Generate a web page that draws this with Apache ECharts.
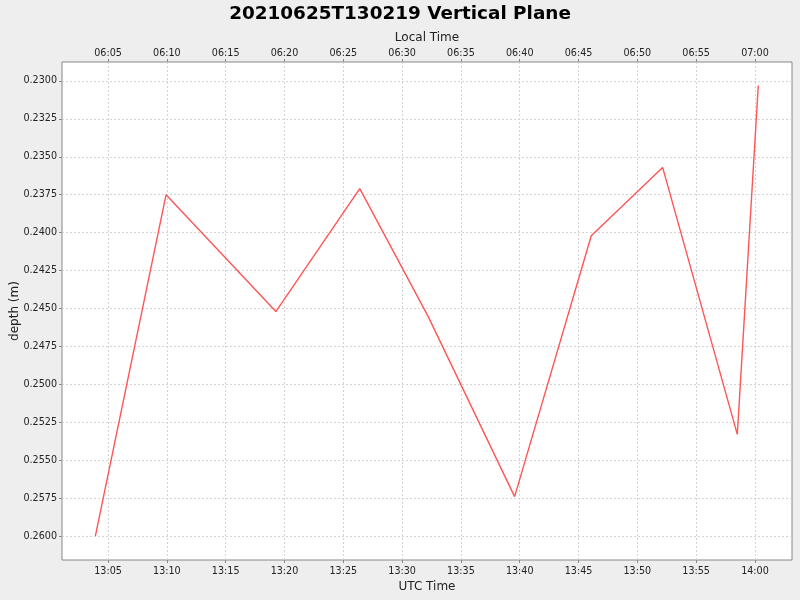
<!DOCTYPE html>
<html>
<head>
<meta charset="utf-8">
<script src="https://cdn.jsdelivr.net/npm/echarts@6/dist/echarts.min.js"></script>
<style>
  html, body { margin: 0; padding: 0; background: #eeeeee; }
  #main { width: 800px; height: 600px; }
</style>
</head>
<body>
<div id="main"></div>
<script type="text/javascript">
    // readings (UTC) and depth values
    var utcTimes = ['13:03:55', '13:09:56', '13:19:16', '13:26:24', '13:32:12',
                    '13:39:34', '13:46:05', '13:52:09', '13:58:30', '14:00:17'];
    var depths = [0.2600, 0.2375, 0.2452, 0.2371, 0.2455,
                  0.2574, 0.2402, 0.2357, 0.2533, 0.2303];

    // axis ticks
    var timeTicks = ['13:05', '13:10', '13:15', '13:20', '13:25', '13:30',
                     '13:35', '13:40', '13:45', '13:50', '13:55', '14:00'];
    var depthTicks = [0.2300, 0.2325, 0.2350, 0.2375, 0.2400, 0.2425, 0.2450,
                      0.2475, 0.2500, 0.2525, 0.2550, 0.2575, 0.2600];
    var day = '2021-06-25';
    var localOffsetHours = -7;

    function ts(hms) {
        if (hms.length == 5) hms = hms + ':00';
        return Date.parse(day + 'T' + hms + 'Z');
    }
    function pad(n) { return (n < 10 ? '0' : '') + n; }
    function hhmm(v, offset) {
        var d = new Date(Math.round(v) + offset * 3600000);
        return pad(d.getUTCHours()) + ':' + pad(d.getUTCMinutes());
    }

    var seriesData = utcTimes.map(function (t, i) { return [ts(t), depths[i]]; });
    var tickValues = timeTicks.map(ts);

    var labelFont = { fontFamily: 'DejaVu Sans', fontSize: 9.6, color: '#222' };
    var nameFont = { fontFamily: 'DejaVu Sans', fontSize: 12, color: '#222' };
    var gridLine = { show: true, lineStyle: { color: '#d4d4d4', type: [2, 2], width: 1 } };
    var tickStyle = { color: '#888888', width: 1 };

    var myChart = echarts.init(document.getElementById('main'));
    var option = {
        backgroundColor: '#eeeeee',
        animation: false,
        title: {
            text: '20210625T130219 Vertical Plane',
            left: 'center',
            top: 0,
            textStyle: { fontFamily: 'DejaVu Sans', fontSize: 18.4, fontWeight: 'bold', color: '#000' }
        },
        grid: {
            left: 62, right: 8, top: 62, bottom: 40,
            containLabel: false,
            outerBoundsMode: 'none',
            show: true,
            backgroundColor: '#ffffff',
            borderColor: '#888888',
            borderWidth: 1
        },
        xAxis: [
            {
                type: 'value',
                position: 'bottom',
                min: ts('13:01:05'),
                max: ts('14:03:09'),
                name: 'UTC Time',
                nameLocation: 'middle',
                nameGap: 21,
                nameMoveOverlap: false,
                nameTextStyle: nameFont,
                axisLine: { show: false },
                axisTick: { show: true, length: 3, lineStyle: tickStyle, customValues: tickValues },
                axisLabel: Object.assign({
                    margin: 6,
                    customValues: tickValues,
                    formatter: function (v) { return hhmm(v, 0); }
                }, labelFont),
                splitLine: gridLine
            },
            {
                type: 'value',
                position: 'top',
                min: ts('13:01:05'),
                max: ts('14:03:09'),
                name: 'Local Time',
                nameLocation: 'middle',
                nameGap: 18,
                nameMoveOverlap: false,
                nameTextStyle: nameFont,
                axisLine: { show: false },
                axisTick: { show: true, length: 3, lineStyle: tickStyle, customValues: tickValues },
                axisLabel: Object.assign({
                    margin: 4,
                    customValues: tickValues,
                    formatter: function (v) { return hhmm(v, localOffsetHours); }
                }, labelFont),
                splitLine: { show: false }
            }
        ],
        yAxis: {
            type: 'value',
            inverse: true,
            min: 0.22875,
            max: 0.26158,
            name: 'depth (m)',
            nameLocation: 'middle',
            nameGap: 41,
            nameMoveOverlap: false,
            nameTextStyle: nameFont,
            axisLine: { show: false },
            axisTick: { show: true, length: 3, lineStyle: tickStyle, customValues: depthTicks },
            axisLabel: Object.assign({
                margin: 5,
                customValues: depthTicks,
                formatter: function (v) { return v.toFixed(4); }
            }, labelFont),
            splitLine: gridLine
        },
        series: [
            {
                name: 'depth',
                type: 'line',
                xAxisIndex: 0,
                data: seriesData,
                showSymbol: false,
                lineStyle: { color: '#ff5555', width: 1.4 },
                itemStyle: { color: '#ff5555' }
            }
        ]
    };

    myChart.setOption(option);
</script>
</body>
</html>
